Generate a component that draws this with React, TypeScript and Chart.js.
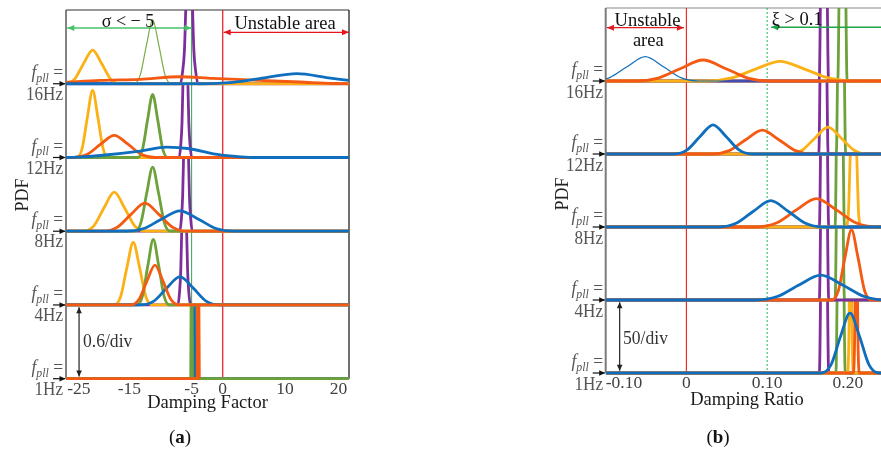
import React, { useEffect, useRef } from 'react';
import { Chart, registerables } from 'chart.js';
Chart.register(...registerables);

const FONT = '"Liberation Serif", "Times New Roman", serif';

// ---------- common ----------
const FREQS = ['1Hz', '4Hz', '8Hz', '12Hz', '16Hz']; // band index 0..4 (bottom to top)
const DIV_A = 0.6; // PDF per division, panel (a)
const DIV_B = 50; // PDF per division, panel (b)

// ---------- panel (a): damping factor ----------
const X_RANGE_A = [-25.2, 20.3];
const TICKS_A = [-25, -15, -5, 0, 10, 20];
const TICK_LABELS_A = ['-25', '-15', '-5', '0', '10', '20'];

type Pt = [number, number]; // [damping value, PDF]

const A16_BLUE: Pt[] = [[-25.2, 0], [-3.6, 0], [1.6, 0.011], [6.7, 0.048], [11.9, 0.082], [17.0, 0.048], [20.3, 0.027]];
const A16_ORANGE: Pt[] = [[-25.2, 0.012], [-19.7, 0.027], [-13.3, 0.036], [-6.9, 0.057], [-1.6, 0.043], [4.9, 0.03], [12.4, 0.014], [17.7, 0.002], [20.3, 0]];
const A16_YELLOW: Pt[] = [[-25.2, 0], [-23.82, 0.037], [-22.37, 0.164], [-20.92, 0.274], [-19.47, 0.164], [-18.02, 0.037], [-16.57, 0], [20.3, 0]];
const A16_GREEN: Pt[] = [[-25.2, 0], [-14.27, 0], [-13.27, 0.07], [-12.27, 0.312], [-11.27, 0.52], [-10.27, 0.312], [-9.27, 0.07], [-8.27, 0], [20.3, 0]];
const A16_PURPLE: Pt[] = [[-25.2, 0], [-6.8, 0], [-6.45, 0.1], [-6.15, 0.28], [-5.95, 0.6], [-5.4, 1.5], [-4.85, 0.6], [-4.65, 0.28], [-4.35, 0.1], [-4.0, 0], [20.3, 0]];

const A12_BLUE: Pt[] = [[-25.2, 0], [-23.4, 0.003], [-19.7, 0.016], [-13.3, 0.052], [-9.0, 0.084], [-5.3, 0.071], [-1.5, 0.03], [1.6, 0.011], [4.7, 0], [20.3, 0]];
const A12_ORANGE: Pt[] = [[-25.2, 0], [-24.04, 0], [-21.84, 0.024], [-19.64, 0.108], [-17.44, 0.18], [-15.24, 0.108], [-13.04, 0.024], [-10.84, 0], [20.3, 0]];
const A12_YELLOW: Pt[] = [[-25.2, 0], [-23.44, 0], [-22.6, 0.074], [-21.76, 0.328], [-20.92, 0.546], [-20.08, 0.328], [-19.24, 0.074], [-18.4, 0], [20.3, 0]];
const A12_GREEN: Pt[] = [[-25.2, 0], [-13.7, 0], [-12.89, 0.069], [-12.08, 0.308], [-11.27, 0.514], [-10.46, 0.308], [-9.65, 0.069], [-8.84, 0], [20.3, 0]];
const A12_PURPLE: Pt[] = [[-25.2, 0], [-7.0, 0], [-6.75, 0.1], [-6.55, 0.28], [-6.4, 0.6], [-6.0, 1.5], [-5.6, 0.6], [-5.45, 0.28], [-5.25, 0.1], [-5.0, 0], [20.3, 0]];

const A8_BLUE: Pt[] = [[-25.2, 0], [-15.58, 0], [-12.68, 0.022], [-9.78, 0.1], [-6.88, 0.166], [-3.98, 0.1], [-1.08, 0.022], [1.82, 0], [20.3, 0]];
const A8_ORANGE: Pt[] = [[-25.2, 0], [-19.23, 0], [-16.99, 0.031], [-14.75, 0.137], [-12.51, 0.228], [-10.27, 0.137], [-8.03, 0.031], [-5.79, 0], [20.3, 0]];
const A8_YELLOW: Pt[] = [[-25.2, 0], [-22.36, 0], [-20.72, 0.043], [-19.08, 0.191], [-17.44, 0.318], [-15.8, 0.191], [-14.16, 0.043], [-12.52, 0], [20.3, 0]];
const A8_GREEN: Pt[] = [[-25.2, 0], [-14.09, 0], [-13.15, 0.07], [-12.21, 0.313], [-11.27, 0.522], [-10.33, 0.313], [-9.39, 0.07], [-8.45, 0], [20.3, 0]];
const A8_PURPLE: Pt[] = [[-25.2, 0], [-6.9, 0], [-6.65, 0.1], [-6.45, 0.28], [-6.3, 0.6], [-5.9, 1.5], [-5.5, 0.6], [-5.35, 0.28], [-5.15, 0.1], [-4.9, 0], [20.3, 0]];

const A4_BLUE: Pt[] = [[-25.2, 0], [-13.18, 0], [-11.08, 0.031], [-8.98, 0.139], [-6.88, 0.231], [-4.78, 0.139], [-2.68, 0.031], [-0.58, 0], [20.3, 0]];
const A4_ORANGE: Pt[] = [[-25.2, 0], [-14.77, 0], [-13.48, 0.044], [-12.19, 0.194], [-10.9, 0.324], [-9.61, 0.194], [-8.32, 0.044], [-7.03, 0], [20.3, 0]];
const A4_YELLOW: Pt[] = [[-25.2, 0], [-17.42, 0], [-16.41, 0.069], [-15.4, 0.306], [-14.39, 0.51], [-13.38, 0.306], [-12.37, 0.069], [-11.36, 0], [20.3, 0]];
const A4_GREEN: Pt[] = [[-25.2, 0], [-13.78, 0], [-12.91, 0.072], [-12.04, 0.32], [-11.17, 0.534], [-10.3, 0.32], [-9.43, 0.072], [-8.56, 0], [20.3, 0]];
const A4_PURPLE: Pt[] = [[-25.2, 0], [-7.2, 0], [-6.95, 0.1], [-6.75, 0.28], [-6.6, 0.6], [-6.2, 1.5], [-5.8, 0.6], [-5.65, 0.28], [-5.45, 0.1], [-5.2, 0], [20.3, 0]];

const A1_ORANGE: Pt[] = [[-25.2, 0], [-4.12, 0], [-4.02, 0.9], [-3.94, 2.0], [-3.86, 0.9], [-3.76, 0]];
const A1_GREEN: Pt[] = [[-25.2, 0], [-5.15, 0], [-5.06, 0.9], [-5.0, 2.0], [-4.94, 0.9], [-4.85, 0], [20.3, 0]];
const A1_BLUE: Pt[] = [[-25.2, 0], [-4.78, 0], [-4.69, 0.9], [-4.63, 2.0], [-4.57, 0.9], [-4.48, 0], [20.3, 0]];
const A1_YELLOW: Pt[] = [[-25.2, 0], [-4.46, 0], [-4.37, 0.9], [-4.31, 2.0], [-4.25, 0.9], [-4.16, 0], [20.3, 0]];

// ---------- panel (b): damping ratio ----------
const X_RANGE_B = [-0.1, 0.25];
const TICKS_B = [-0.1, 0, 0.1, 0.2, 0.25];
const TICK_LABELS_B = ['-0.10', '0', '0.10', '0.20', ''];

const B16_ORANGE: Pt[] = [[-0.1, 0], [-0.0625, 0], [-0.0348, 2.0], [-0.0071, 8.6], [0.0206, 14.4], [0.0483, 8.6], [0.076, 2.0], [0.1037, 0], [0.25, 0]];
const B16_BLUE: Pt[] = [[-0.1, 1.5], [-0.095, 2.3], [-0.073, 10.0], [-0.051, 16.7], [-0.029, 10.0], [-0.007, 2.3], [0.015, 0], [0.25, 0]];
const B16_YELLOW: Pt[] = [[-0.1, 0], [0.0245, 0], [0.055, 1.9], [0.0855, 8.1], [0.116, 13.5], [0.1465, 8.1], [0.177, 1.9], [0.2075, 0], [0.25, 0]];
const B16_PURPLE: Pt[] = [[-0.1, 0], [0.1645, 0], [0.1665, 80], [0.1703, 300], [0.1741, 80], [0.1761, 0], [0.25, 0]];
const B16_GREEN: Pt[] = [[-0.1, 0], [0.1875, 0], [0.1895, 80], [0.1933, 300], [0.1971, 80], [0.1991, 0], [0.25, 0]];

const B12_BLUE: Pt[] = [[-0.1, 0], [-0.0153, 0], [0.0008, 2.8], [0.0169, 12], [0.033, 20], [0.0491, 12], [0.0652, 2.8], [0.0813, 0], [0.25, 0]];
const B12_ORANGE: Pt[] = [[-0.1, 0], [0.0325, 0], [0.053, 2.3], [0.0735, 9.8], [0.094, 16.3], [0.1145, 9.8], [0.135, 2.3], [0.1555, 0], [0.25, 0]];
const B12_YELLOW: Pt[] = [[-0.1, 0], [0.1272, 0], [0.1433, 2.6], [0.1594, 11], [0.1755, 18.4], [0.1916, 11], [0.2077, 2.6], [0.2238, 0], [0.25, 0]];
const B12_PURPLE: Pt[] = [[-0.1, 0], [0.164, 0], [0.166, 80], [0.1698, 300], [0.1736, 80], [0.1756, 0], [0.25, 0]];
const B12_GREEN: Pt[] = [[-0.1, 0], [0.1857, 0], [0.1877, 80], [0.1915, 300], [0.1953, 80], [0.1973, 0], [0.25, 0]];

const B8_BLUE: Pt[] = [[-0.1, 0], [0.04, 0], [0.0615, 2.5], [0.083, 10.8], [0.1045, 18], [0.126, 10.8], [0.1475, 2.5], [0.169, 0], [0.25, 0]];
const B8_ORANGE: Pt[] = [[-0.1, 0], [0.0866, 0], [0.1114, 2.7], [0.1362, 11.7], [0.161, 19.5], [0.1858, 11.7], [0.2106, 2.7], [0.2354, 0], [0.25, 0]];
const B8_YELLOW: Pt[] = [[-0.1, 0], [0.197, 0], [0.2005, 8], [0.203, 50], [0.207, 120], [0.211, 50], [0.2135, 8], [0.217, 0], [0.25, 0]];
const B8_PURPLE: Pt[] = [[-0.1, 0], [0.1647, 0], [0.1667, 80], [0.1705, 300], [0.1743, 80], [0.1763, 0], [0.25, 0]];
const B8_GREEN: Pt[] = [[-0.1, 0], [0.1842, 0], [0.1862, 80], [0.19, 300], [0.1938, 80], [0.1958, 0], [0.25, 0]];

const B4_BLUE: Pt[] = [[-0.1, 0], [0.0855, 0], [0.1125, 2.4], [0.1395, 10.3], [0.1665, 17.1], [0.1935, 10.3], [0.2205, 2.4], [0.2475, 0], [0.25, 0]];
const B4_ORANGE: Pt[] = [[-0.1, 0], [0.1802, 0], [0.1883, 6.5], [0.1964, 29], [0.2045, 48], [0.2126, 29], [0.2207, 6.5], [0.2288, 0], [0.25, 0]];
const B4_PURPLE: Pt[] = [[-0.1, 0], [0.1647, 0], [0.1667, 80], [0.1705, 300], [0.1743, 80], [0.1763, 0], [0.25, 0]];
const B4_GREEN: Pt[] = [[-0.1, 0], [0.1842, 0], [0.1862, 80], [0.19, 300], [0.1938, 80], [0.1958, 0], [0.25, 0]];

const B1_BLUE: Pt[] = [[-0.1, 0], [0.1673, 0], [0.1791, 5.5], [0.1909, 25], [0.2027, 41], [0.2145, 25], [0.2263, 5.5], [0.2381, 0], [0.25, 0]];
const B1_ORANGE: Pt[] = [[-0.1, 0], [0.2065, 0], [0.209, 50], [0.2105, 200], [0.212, 50], [0.2145, 0], [0.25, 0]];
const B1_YELLOW: Pt[] = [[-0.1, 0], [0.1993, 0], [0.2018, 50], [0.2033, 200], [0.2048, 50], [0.2073, 0], [0.25, 0]];
const B1_GREEN: Pt[] = [[-0.1, 0], [0.1852, 0], [0.1872, 80], [0.191, 300], [0.1948, 80], [0.1968, 0], [0.25, 0]];
const B1_PURPLE: Pt[] = [[-0.1, 0], [0.1647, 0], [0.1667, 80], [0.1705, 300], [0.1743, 80], [0.1763, 0], [0.25, 0]];

// ---------- styles ----------
const BLUE = '#0F6EBD';
const ORANGE = '#F45A12';
const YELLOW = '#FBB116';
const PURPLE = '#7E2E9C';
const GREEN = '#6DA13A';
const RED = '#E8141B';

interface SeriesSpec { data: Pt[]; band: number; color: string; thin?: boolean }

// listed top-drawn first
const SERIES_A: SeriesSpec[] = [
  { data: A16_BLUE, band: 4, color: BLUE },
  { data: A16_ORANGE, band: 4, color: ORANGE },
  { data: A16_YELLOW, band: 4, color: YELLOW },
  { data: A16_GREEN, band: 4, color: '#78AE48', thin: true },
  { data: A16_PURPLE, band: 4, color: PURPLE },
  { data: A12_BLUE, band: 3, color: BLUE },
  { data: A12_ORANGE, band: 3, color: ORANGE },
  { data: A12_GREEN, band: 3, color: GREEN },
  { data: A12_YELLOW, band: 3, color: YELLOW },
  { data: A12_PURPLE, band: 3, color: PURPLE },
  { data: A8_BLUE, band: 2, color: BLUE },
  { data: A8_ORANGE, band: 2, color: ORANGE },
  { data: A8_GREEN, band: 2, color: GREEN },
  { data: A8_YELLOW, band: 2, color: YELLOW },
  { data: A8_PURPLE, band: 2, color: PURPLE },
  { data: A4_ORANGE, band: 1, color: ORANGE },
  { data: A4_BLUE, band: 1, color: BLUE },
  { data: A4_GREEN, band: 1, color: GREEN },
  { data: A4_YELLOW, band: 1, color: YELLOW },
  { data: A4_PURPLE, band: 1, color: PURPLE },
  { data: A1_ORANGE, band: 0, color: ORANGE },
  { data: A1_GREEN, band: 0, color: GREEN },
  { data: A1_BLUE, band: 0, color: BLUE },
  { data: A1_YELLOW, band: 0, color: YELLOW },
];

const SERIES_B: SeriesSpec[] = [
  { data: B16_ORANGE, band: 4, color: ORANGE },
  { data: B16_BLUE, band: 4, color: BLUE, thin: true },
  { data: B16_YELLOW, band: 4, color: YELLOW },
  { data: B16_PURPLE, band: 4, color: PURPLE },
  { data: B16_GREEN, band: 4, color: GREEN },
  { data: B12_BLUE, band: 3, color: BLUE },
  { data: B12_ORANGE, band: 3, color: ORANGE },
  { data: B12_YELLOW, band: 3, color: YELLOW },
  { data: B12_PURPLE, band: 3, color: PURPLE },
  { data: B12_GREEN, band: 3, color: GREEN },
  { data: B8_BLUE, band: 2, color: BLUE },
  { data: B8_ORANGE, band: 2, color: ORANGE },
  { data: B8_YELLOW, band: 2, color: YELLOW },
  { data: B8_PURPLE, band: 2, color: PURPLE },
  { data: B8_GREEN, band: 2, color: GREEN },
  { data: B4_BLUE, band: 1, color: BLUE },
  { data: B4_ORANGE, band: 1, color: ORANGE },
  { data: B4_PURPLE, band: 1, color: PURPLE },
  { data: B4_GREEN, band: 1, color: GREEN },
  { data: B1_BLUE, band: 0, color: BLUE },
  { data: B1_ORANGE, band: 0, color: ORANGE },
  { data: B1_YELLOW, band: 0, color: YELLOW },
  { data: B1_GREEN, band: 0, color: GREEN },
  { data: B1_PURPLE, band: 0, color: PURPLE },
];

interface Deco {
  left: [string, number];
  top: [string, number];
  right?: [string, number];
  refs: { x: number; color: string; width: number; dash?: number[] }[];
  arrows: { y: number; x1: number; x2: number; color: string; start: boolean; end: boolean }[];
  scaleArrowX: number;
}

const DECO_A: Deco = {
  left: ['#5a5a5a', 1.5],
  top: ['#333333', 1.2],
  right: ['#111111', 1.2],
  refs: [
    { x: 0, color: RED, width: 1.2 },
    { x: -5, color: '#2BA84A', width: 1 },
  ],
  arrows: [
    { y: 4.756, x1: -25.0, x2: -5.0, color: '#49C06A', start: true, end: true },
    { y: 4.697, x1: 0.15, x2: 20.3, color: RED, start: true, end: true },
  ],
  scaleArrowX: -23.1,
};

const DECO_B: Deco = {
  left: ['#7a7a7a', 2],
  top: ['#8a8a8a', 1.2],
  refs: [
    { x: 0, color: '#F02A2A', width: 1.2 },
    { x: 0.1, color: '#1FB34F', width: 1, dash: [2, 2] },
  ],
  arrows: [
    { y: 4.73, x1: -0.0985, x2: -0.003, color: '#E01A22', start: true, end: true },
    { y: 4.736, x1: 0.105, x2: 0.25, color: '#1FA54A', start: true, end: false },
  ],
  scaleArrowX: -0.0827,
};

function makeDatasets(series: SeriesSpec[], div: number) {
  return series.map((s) => ({
    data: s.data.map(([x, p]) => ({ x, y: s.band + p / div })),
    borderColor: s.color,
    borderWidth: s.thin ? 1.2 : 2.8,
    pointRadius: 0,
    cubicInterpolationMode: 'monotone' as const,
    fill: false,
    clip: 6,
    band: s.band,
  }));
}

const bandClip = {
  id: 'bandClip',
  beforeDatasetDraw(chart: any, args: any) {
    const ds = chart.data.datasets[args.index];
    const { ctx, chartArea } = chart;
    const y = chart.scales.y;
    const top = y.getPixelForValue(ds.band + 1);
    const bottom = y.getPixelForValue(ds.band) + 2;
    ctx.save();
    ctx.beginPath();
    ctx.rect(chartArea.left, top, chartArea.right - chartArea.left, bottom - top);
    ctx.clip();
  },
  afterDatasetDraw(chart: any) {
    chart.ctx.restore();
  },
};

function head(ctx: CanvasRenderingContext2D, tx: number, ty: number, dx: number, dy: number, len = 6, half = 3) {
  const bx = tx - dx * len;
  const by = ty - dy * len;
  ctx.beginPath();
  ctx.moveTo(tx, ty);
  ctx.lineTo(bx - dy * half, by + dx * half);
  ctx.lineTo(bx + dy * half, by - dx * half);
  ctx.closePath();
  ctx.fill();
}

function seg(ctx: CanvasRenderingContext2D, x1: number, y1: number, x2: number, y2: number, color: string, w: number) {
  ctx.strokeStyle = color;
  ctx.lineWidth = w;
  ctx.beginPath();
  ctx.moveTo(x1, y1);
  ctx.lineTo(x2, y2);
  ctx.stroke();
}

function decoPlugin(d: Deco) {
  return {
    id: 'deco',
    beforeDatasetsDraw(chart: any) {
      const { ctx, chartArea: a } = chart;
      const x = chart.scales.x;
      ctx.save();
      seg(ctx, a.left, a.top, a.left, a.bottom, d.left[0], d.left[1]);
      seg(ctx, a.left, a.top, a.right, a.top, d.top[0], d.top[1]);
      if (d.right) seg(ctx, a.right, a.top, a.right, a.bottom, d.right[0], d.right[1]);
      for (const r of d.refs) {
        const px = x.getPixelForValue(r.x);
        ctx.setLineDash(r.dash || []);
        seg(ctx, px, a.top, px, a.bottom, r.color, r.width);
      }
      ctx.restore();
    },
    afterDatasetsDraw(chart: any) {
      const { ctx, chartArea: a } = chart;
      const x = chart.scales.x;
      const y = chart.scales.y;
      ctx.save();
      for (const ar of d.arrows) {
        const py = y.getPixelForValue(ar.y);
        const p1 = x.getPixelForValue(ar.x1);
        const p2 = Math.min(x.getPixelForValue(ar.x2), a.right);
        seg(ctx, p1, py, p2, py, ar.color, 1.3);
        ctx.fillStyle = ar.color;
        if (ar.start) head(ctx, p1, py, -1, 0, 7, 3);
        if (ar.end) head(ctx, p2, py, 1, 0, 7, 3);
      }
      ctx.fillStyle = '#111';
      for (let k = 0; k < 5; k++) {
        const py = y.getPixelForValue(k);
        seg(ctx, a.left - 13, py, a.left - 1, py, '#111', 1.2);
        head(ctx, a.left - 0.5, py, 1, 0, 6, 2.8);
      }
      const sx = x.getPixelForValue(d.scaleArrowX);
      const y0 = y.getPixelForValue(0.03);
      const y1 = y.getPixelForValue(0.97);
      seg(ctx, sx, y0, sx, y1, '#222', 1.2);
      ctx.fillStyle = '#222';
      head(ctx, sx, y0, 0, 1, 6, 2.8);
      head(ctx, sx, y1, 0, -1, 6, 2.8);
      ctx.restore();
    },
  };
}

function makeOptions(range: number[], ticks: number[], labels: string[], title: string, padding: any, scaleH: number) {
  return {
    responsive: false,
    animation: false as const,
    devicePixelRatio: 1,
    events: [] as any[],
    layout: { padding },
    plugins: { legend: { display: false }, tooltip: { enabled: false } },
    scales: {
      x: {
        type: 'linear' as const,
        min: range[0],
        max: range[1],
        afterBuildTicks: (s: any) => {
          s.ticks = ticks.map((v) => ({ value: v }));
        },
        afterFit: (s: any) => {
          s.height = scaleH;
        },
        ticks: {
          align: 'inner' as const,
          autoSkip: false,
          maxRotation: 0,
          padding: 0,
          color: '#404040',
          font: { family: FONT, size: 17.5 },
          callback: (_v: any, i: number) => labels[i] ?? '',
        },
        grid: { display: false, drawTicks: false },
        border: { display: false },
        title: { display: true, text: title, color: '#1a1a1a', font: { family: FONT, size: 18.5 }, padding: 0 },
      },
      y: { display: false, min: 0, max: 5 },
    },
  };
}

// text layout helpers (page pixel positions of band baselines)
const baseA = (k: number) => 378.7 - k * 73.74;
const baseB = (k: number) => 373 - k * 73;
const LABEL = '#555555';

function T(props: { x: number; y: number; size?: number; align?: string; color?: string; children: any; sx?: number }) {
  const size = props.size ?? 18;
  const align = props.align ?? 'left';
  const sx = props.sx ?? 1;
  const tx = align === 'center' ? 'translateX(-50%)' : align === 'right' ? 'translateX(-100%)' : '';
  return (
    <div
      style={{
        position: 'absolute',
        left: props.x,
        top: props.y - 0.8375 * size,
        fontSize: size,
        lineHeight: `${size}px`,
        color: props.color ?? '#111',
        whiteSpace: 'nowrap',
        transform: `${tx} scaleX(${sx})`,
        transformOrigin: align === 'right' ? '100% 50%' : align === 'center' ? '50% 50%' : '0 50%',
        fontFamily: FONT,
      }}
    >
      {props.children}
    </div>
  );
}

function Fpll() {
  return (
    <>
      <i>f</i>
      <i style={{ fontSize: '0.68em', position: 'relative', top: '0.3em' }}>pll</i>
      {' ='}
    </>
  );
}

export default function App() {
  const refA = useRef<HTMLCanvasElement>(null);
  const refB = useRef<HTMLCanvasElement>(null);

  useEffect(() => {
    const ca = new Chart(refA.current as HTMLCanvasElement, {
      type: 'line',
      data: { datasets: makeDatasets(SERIES_A, DIV_A) as any },
      options: makeOptions(X_RANGE_A, TICKS_A, TICK_LABELS_A, 'Damping Factor', { left: 66, right: 11, top: 10, bottom: 36.2 }, 35.1) as any,
      plugins: [bandClip, decoPlugin(DECO_A)],
    });
    const cb = new Chart(refB.current as HTMLCanvasElement, {
      type: 'line',
      data: { datasets: makeDatasets(SERIES_B, DIV_B) as any },
      options: makeOptions(X_RANGE_B, TICKS_B, TICK_LABELS_B, 'Damping Ratio', { left: 165.7, right: 1.8, top: 8, bottom: 38.7 }, 38.3) as any,
      plugins: [bandClip, decoPlugin(DECO_B)],
    });
    return () => {
      ca.destroy();
      cb.destroy();
    };
  }, []);

  return (
    <div style={{ position: 'absolute', left: 0, top: 0, width: 881, height: 450, overflow: 'hidden', background: '#fff', fontFamily: FONT }}>
      <canvas ref={refA} width={360} height={450} style={{ position: 'absolute', left: 0, top: 0 }} />
      <canvas ref={refB} width={450} height={450} style={{ position: 'absolute', left: 440, top: 0 }} />

      {FREQS.map((f, k) => (
        <React.Fragment key={'a' + k}>
          <T x={63} y={baseA(k) - 6} align="right" size={19} sx={0.92} color={LABEL}><Fpll /></T>
          <T x={63} y={baseA(k) + 16} align="right" size={19} sx={0.9} color={LABEL}>{f}</T>
        </React.Fragment>
      ))}
      {FREQS.map((f, k) => (
        <React.Fragment key={'b' + k}>
          <T x={603} y={baseB(k) - 6} align="right" size={19} sx={0.92} color={LABEL}><Fpll /></T>
          <T x={603} y={baseB(k) + 17} align="right" size={19} sx={0.9} color={LABEL}>{f}</T>
        </React.Fragment>
      ))}

      <div style={{ position: 'absolute', left: 21.7, top: 195, transform: 'translate(-50%,-50%) rotate(-90deg)', fontSize: 18, color: '#222', fontFamily: FONT }}>PDF</div>
      <div style={{ position: 'absolute', left: 561.5, top: 194, transform: 'translate(-50%,-50%) rotate(-90deg)', fontSize: 18, color: '#222', fontFamily: FONT }}>PDF</div>

      <T x={128} y={26.5} align="center" size={19} sx={0.95}>{'\u03C3 < \u2212 5'}</T>
      <T x={285} y={29} align="center" size={18.5}>Unstable area</T>
      <T x={83} y={347} size={18.5} sx={0.95} color="#333">0.6/div</T>
      <T x={180} y={443} align="center" size={19}>(<b>a</b>)</T>

      <T x={647.5} y={26.7} align="center" size={18.5}>Unstable</T>
      <T x={648.3} y={46.7} align="center" size={18.5}>area</T>
      <T x={771.7} y={25} size={18.5}>{'\u03BE > 0.1'}</T>
      <T x={623} y={344.5} size={18.5} sx={0.95} color="#333">50/div</T>
      <T x={718} y={442.5} align="center" size={19}>(<b>b</b>)</T>
    </div>
  );
}
